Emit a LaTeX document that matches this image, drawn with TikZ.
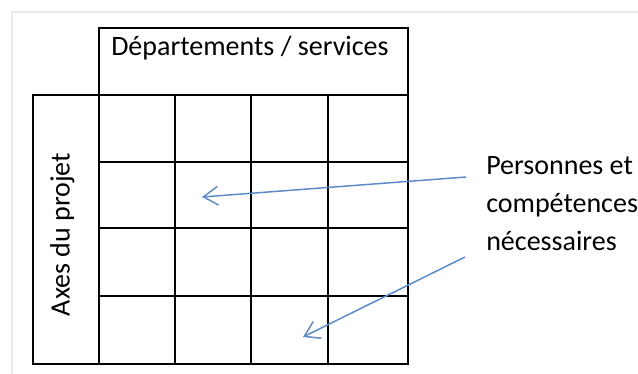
\documentclass[tikz,border=0pt]{standalone}
\usepackage{fontspec}
\setmainfont{Carlito}
\usetikzlibrary{arrows.meta}
\definecolor{arrowblue}{RGB}{92,138,200}
\definecolor{framecol}{RGB}{232,232,244}
\begin{document}
\begin{tikzpicture}[x=0.75pt,y=-0.75pt,
  gridline/.style={draw=black,line width=1.1pt},
  lbl/.style={inner sep=0pt,font=\fontsize{21}{28.5}\selectfont},
  pointer/.style={draw=arrowblue,line width=1.1pt,-{Straight Barb[length=11pt,width=14pt,line width=1.1pt]}}]
\useasboundingbox (0,0) rectangle (638,374);
\fill[white] (0,0) rectangle (638,374);
\draw[framecol,line width=2.2pt] (12,374) -- (12,12) -- (638,12);
% header
\draw[gridline] (99,28) rectangle (408,95);
\node[lbl,anchor=base west] (hdr) at (111,56) {Départements / services};
% side column
\draw[gridline] (33,95) rectangle (99,364);
\node[lbl,anchor=base,rotate=90] (side) at (69.5,234.5) {Axes du projet};
% grid
\draw[gridline] (99,95) rectangle (408,364);
\foreach \x in {175,251,328} \draw[gridline] (\x,95) -- (\x,364);
\foreach \y in {162,228,296} \draw[gridline] (99,\y) -- (408,\y);
% label
\node[lbl,anchor=base west,align=left] (label) at (486,250) {Personnes et\\compétences\\nécessaires};
\coordinate (s1) at (466,177);
\coordinate (s2) at (465,257);
\coordinate (e1) at (202,197);
\coordinate (e2) at (303,337);
\draw[pointer] (s1) -- (e1);
\draw[pointer] (s2) -- (e2);
\end{tikzpicture}
\end{document}
